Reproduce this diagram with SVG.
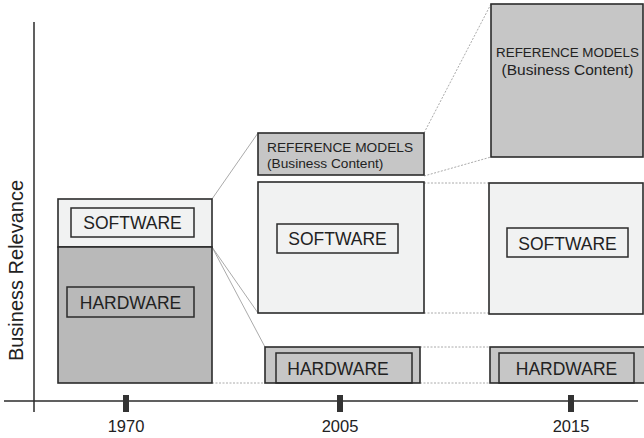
<svg xmlns="http://www.w3.org/2000/svg" width="644" height="438" viewBox="0 0 644 438">
  <style>
    .axis { stroke: #2b2b2b; stroke-width: 1.5; fill: none; }
    .tick { fill: #333333; }
    .light { fill: #f1f2f2; stroke: #2b2b2b; stroke-width: 1.6; }
    .dark { fill: #b9b9b9; stroke: #2b2b2b; stroke-width: 1.6; }
    .mid { fill: #c6c6c6; stroke: #2b2b2b; stroke-width: 1.6; }
    .tag { fill: none; stroke: #2b2b2b; stroke-width: 1.5; }
    .link { stroke: #a0a0a0; stroke-width: 0.9; fill: none; }
    .dot { stroke: #a0a0a0; stroke-width: 0.9; fill: none; stroke-dasharray: 2 1.5; }
    text { font-family: "Liberation Sans", Arial, sans-serif; fill: #222222; }
    .big { font-size: 17.5px; }
    .small { font-size: 13.7px; }
    .caps { font-size: 13.4px; }
    .medium { font-size: 15.5px; }
    .year { font-size: 16.5px; text-anchor: middle; }
    .ylabel { font-size: 20px; text-anchor: middle; }
  </style>

  <!-- axes -->
  <g id="axes">
    <line class="axis" x1="34" y1="22" x2="34" y2="412"/>
    <line class="axis" x1="4" y1="401" x2="638" y2="401"/>
    <rect class="tick" x="123" y="395" width="6" height="17"/>
    <rect class="tick" x="337" y="395" width="6" height="17"/>
    <rect class="tick" x="568" y="395" width="6" height="17"/>
    <text class="year" x="126" y="432">1970</text>
    <text class="year" x="340" y="432">2005</text>
    <text class="year" x="571" y="432">2015</text>
    <text class="ylabel" x="0" y="0" transform="translate(23 270.5) rotate(-90)">Business Relevance</text>
  </g>

  <!-- connectors between the stacks -->
  <g id="connectors">
    <line class="link" x1="212" y1="199" x2="258" y2="133"/>
    <line class="link" x1="212" y1="247" x2="258" y2="313"/>
    <line class="link" x1="212" y1="247" x2="265" y2="347"/>
    <line class="dot" x1="212" y1="383" x2="265" y2="383"/>
    <line class="dot" x1="424" y1="133" x2="491" y2="4"/>
    <line class="dot" x1="424" y1="176" x2="491" y2="157"/>
    <line class="dot" x1="424" y1="183" x2="489" y2="183"/>
    <line class="dot" x1="424" y1="313" x2="489" y2="313"/>
    <line class="dot" x1="420" y1="347" x2="490" y2="347"/>
    <line class="dot" x1="420" y1="383" x2="490" y2="383"/>
  </g>

  <!-- 1970 stack -->
  <g id="stack-1970">
    <rect class="light" x="58" y="199" width="154" height="48"/>
    <rect class="dark" x="58" y="247" width="154" height="136"/>
    <rect class="tag" x="71" y="208" width="123" height="29"/>
    <text class="big" x="132.5" y="229" text-anchor="middle">SOFTWARE</text>
    <rect class="tag" x="67" y="287" width="127" height="30"/>
    <text class="big" x="130.5" y="309" text-anchor="middle">HARDWARE</text>
  </g>

  <!-- 2005 stack -->
  <g id="ref-2005">
    <rect class="mid" x="258" y="133" width="166" height="42"/>
    <text class="small" x="267" y="152">REFERENCE MODELS</text>
    <text class="small" x="267" y="168">(Business Content)</text>
  </g>
  <g id="software-2005">
    <rect class="light" x="258" y="182" width="166" height="131"/>
    <rect class="tag" x="277" y="224" width="121" height="29"/>
    <text class="big" x="337.5" y="245" text-anchor="middle">SOFTWARE</text>
  </g>
  <g id="hardware-2005">
    <rect class="mid" x="265" y="347" width="155" height="36"/>
    <rect class="tag" x="276" y="353" width="136" height="30"/>
    <text class="big" x="338" y="375" text-anchor="middle">HARDWARE</text>
  </g>

  <!-- 2015 stack -->
  <g id="ref-2015">
    <rect class="mid" x="491" y="4" width="152" height="153"/>
    <text class="caps" x="567.5" y="57" text-anchor="middle">REFERENCE MODELS</text>
    <text class="medium" x="567.5" y="75" text-anchor="middle">(Business Content)</text>
  </g>
  <g id="software-2015">
    <rect class="light" x="489" y="183" width="154" height="131"/>
    <rect class="tag" x="507" y="228" width="121" height="29"/>
    <text class="big" x="567.5" y="250" text-anchor="middle">SOFTWARE</text>
  </g>
  <g id="hardware-2015">
    <rect class="mid" x="490" y="347" width="160" height="36"/>
    <rect class="tag" x="499" y="353" width="135" height="30"/>
    <text class="big" x="566.5" y="375" text-anchor="middle">HARDWARE</text>
  </g>
</svg>
